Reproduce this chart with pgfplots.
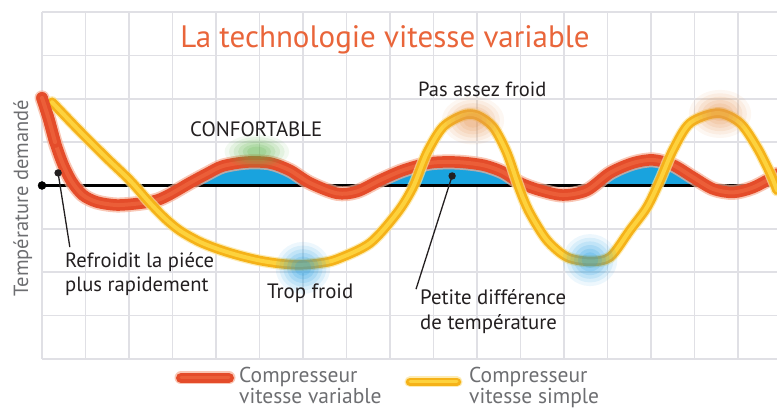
\documentclass[border=0pt]{standalone}
\usepackage{pgfplots}
\pgfplotsset{compat=1.18}
\usepackage{pgfplotstable}
\usepgfplotslibrary{fillbetween}
\usepackage{fontspec}
\setmainfont{PT Sans}

\definecolor{titlec}{RGB}{233,101,58}
\definecolor{txtc}{RGB}{35,31,32}
\definecolor{grayc}{RGB}{109,110,113}
\definecolor{gridc}{RGB}{224,224,229}
\definecolor{bluefill}{RGB}{25,163,222}
\definecolor{redmain}{RGB}{228,76,42}
\definecolor{redhi}{RGB}{242,112,70}
\definecolor{redglow}{RGB}{246,175,150}
\definecolor{yelmain}{RGB}{245,178,25}
\definecolor{yelhi}{RGB}{255,218,70}
\definecolor{yelglow}{RGB}{252,228,150}
\definecolor{blobgreen}{RGB}{95,180,75}
\definecolor{bloborange}{RGB}{230,150,85}
\definecolor{blobblue}{RGB}{30,155,225}

% variable-speed compressor (red)
\pgfplotstableread{
x y
0 6.02
0.15 5.55
0.30 5.00
0.49 4.47
0.69 4.08
0.94 3.78
1.26 3.62
1.72 3.55
2.25 3.59
2.64 3.66
2.95 3.80
3.40 4.06
3.79 4.27
4.16 4.45
4.71 4.54
5.24 4.52
5.70 4.35
6.16 4.06
6.78 3.82
7.24 3.86
7.77 4.12
8.30 4.35
8.92 4.52
9.54 4.54
10.14 4.47
10.60 4.31
10.99 4.06
11.45 3.89
11.98 3.78
12.53 3.89
13.06 4.29
13.59 4.52
14.05 4.59
14.51 4.47
14.97 4.19
15.43 3.92
15.89 3.84
16.34 3.95
16.80 4.19
16.90 4.26
}\redtab

\pgfplotstableread{
x y
0 6.02
0.15 5.55
0.30 5.00
}\redstart

% single-speed compressor (yellow)
\pgfplotstableread{
x y
0.23 5.92
0.87 5.25
1.49 4.63
2.02 4.12
2.48 3.60
2.83 3.24
3.17 2.96
3.63 2.70
4.09 2.52
4.55 2.38
5.01 2.27
5.47 2.20
5.93 2.17
6.39 2.21
6.78 2.30
7.54 2.67
8.16 3.36
8.53 3.96
8.85 4.75
9.22 5.35
9.68 5.62
10.00 5.62
10.37 5.35
10.69 4.75
10.99 3.89
11.22 3.36
11.61 2.74
12.07 2.35
12.60 2.25
13.06 2.35
13.52 2.97
13.91 3.50
14.21 4.12
14.51 4.82
14.90 5.44
15.54 5.67
16.05 5.44
16.44 4.88
16.74 4.29
16.90 3.89
}\yeltab

\newcommand{\blobring}[5]{% color, size, xscale, opacity, coords
  \addplot[#1, only marks, mark=*, mark size=#2, mark options={draw opacity=0, line width=0pt, fill=#1, fill opacity=#4, xscale=#3}] coordinates {#5};
}
\newcommand{\blob}[4]{% color, size, xscale, coords
  \blobring{#1}{#2}{#3}{0.08}{#4}
  \blobring{#1}{0.86*#2}{#3}{0.10}{#4}
  \blobring{#1}{0.72*#2}{#3}{0.12}{#4}
  \blobring{#1}{0.58*#2}{#3}{0.14}{#4}
  \blobring{#1}{0.44*#2}{#3}{0.16}{#4}
  \blobring{#1}{0.30*#2}{#3}{0.18}{#4}
}

\begin{document}
\begin{tikzpicture}
\begin{axis}[
  at={(42pt,50pt)}, anchor=south west,
  scale only axis, width=735pt, height=347pt,
  xmin=0, xmax=16.9, ymin=0, ymax=8,
  xtick={0,...,16}, ytick={0,...,8},
  xticklabels={}, yticklabels={},
  major tick length=0pt,
  grid=major, grid style={line width=1.7pt, color=gridc},
  axis line style={draw=none},
  clip=false,
]
% baseline path
\addplot[draw=none, name path=base] coordinates {(0,4) (16.9,4)};
% hidden red path for the fill
\addplot[draw=none, smooth, name path=redp] table {\redtab};
\addplot[fill=bluefill, draw=none] fill between[of=redp and base,
  soft clip={(axis cs:0,4) rectangle (axis cs:16.9,8)}];
% baseline
\addplot[black, line width=2.2pt] coordinates {(0,4) (16.9,4)};
\addplot[black, only marks, mark=*, mark size=4pt] coordinates {(0,4)};
% glows
\blob{blobgreen}{17}{1.9}{(4.94,4.78)}
\blob{bloborange}{24}{1.3}{(9.91,5.50) (15.59,5.65)}
\blob{blobblue}{26}{1.05}{(6.0,2.10) (12.6,2.28)}
% red curve
\addplot[redglow, line width=15pt, smooth, line cap=round, opacity=0.7] table {\redtab};
\addplot[redmain, line width=11.5pt, smooth, line cap=round] table {\redtab};
\addplot[redhi, line width=4pt, smooth, line cap=round, opacity=0.5] table {\redtab};
% yellow curve
\addplot[yelglow, line width=12pt, smooth, line cap=round, opacity=0.7] table {\yeltab};
\addplot[yelmain, line width=9.5pt, smooth, line cap=round] table {\yeltab};
\addplot[yelhi, line width=4pt, smooth, line cap=round, opacity=0.8] table {\yeltab};
% red start over yellow start
\addplot[redmain, line width=11.5pt, smooth, line cap=round] table {\redstart};
\addplot[redhi, line width=4pt, smooth, line cap=round, opacity=0.5] table {\redstart};
% leader lines
\addplot[txtc, line width=1.3pt, mark=*, mark indices={1}, mark size=3pt] coordinates {(0.37,4.29) (0.64,2.58)};
\addplot[txtc, line width=1.3pt, mark=*, mark indices={1}, mark size=3pt] coordinates {(9.43,4.22) (8.60,1.61)};
\end{axis}

% texts
\node[anchor=base, text=titlec, font=\fontsize{31}{33}\selectfont, inner sep=0pt] at (385pt,361pt) {La technologie vitesse variable};
\node[anchor=base west, text=txtc, font=\fontsize{20.8}{22}\selectfont, inner sep=0pt] at (190pt,272pt) {CONFORTABLE};
\node[anchor=base west, text=txtc, font=\fontsize{20.5}{22}\selectfont, inner sep=0pt] at (418pt,312pt) {Pas assez froid};
\node[anchor=base west, text=txtc, font=\fontsize{20.6}{22}\selectfont, inner sep=0pt] at (65pt,141pt) {Refroidit la piéce};
\node[anchor=base west, text=txtc, font=\fontsize{20.6}{22}\selectfont, inner sep=0pt] at (65pt,117pt) {plus rapidement};
\node[anchor=base west, text=txtc, font=\fontsize{20.8}{22}\selectfont, inner sep=0pt] at (267pt,110pt) {Trop froid};
\node[anchor=base west, text=txtc, font=\fontsize{20.8}{22}\selectfont, inner sep=0pt] at (420pt,104pt) {Petite différence};
\node[anchor=base west, text=txtc, font=\fontsize{20.8}{22}\selectfont, inner sep=0pt] at (420pt,79pt) {de température};
\node[rotate=90, anchor=base, text=grayc, font=\fontsize{20.5}{22}\selectfont, inner sep=0pt] at (28pt,211pt) {Température demandé};
% legend
\draw[redglow, line width=13pt, line cap=round, opacity=0.7] (181pt,31pt) -- (229pt,31pt);
\draw[redmain, line width=10pt, line cap=round] (181pt,31pt) -- (229pt,31pt);
\draw[redhi, line width=3pt, line cap=round, opacity=0.5] (181pt,31pt) -- (229pt,31pt);
\draw[yelglow, line width=11pt, line cap=round, opacity=0.7] (410pt,27pt) -- (457pt,27pt);
\draw[yelmain, line width=8.5pt, line cap=round] (410pt,27pt) -- (457pt,27pt);
\draw[yelhi, line width=3pt, line cap=round, opacity=0.8] (410pt,27pt) -- (457pt,27pt);
\node[anchor=base west, text=grayc, font=\fontsize{21.5}{23}\selectfont, inner sep=0pt] at (239pt,26pt) {Compresseur};
\node[anchor=base west, text=grayc, font=\fontsize{21.5}{23}\selectfont, inner sep=0pt] at (239pt,5pt) {vitesse variable};
\node[anchor=base west, text=grayc, font=\fontsize{21.5}{23}\selectfont, inner sep=0pt] at (469pt,26pt) {Compresseur};
\node[anchor=base west, text=grayc, font=\fontsize{21.5}{23}\selectfont, inner sep=0pt] at (469pt,5pt) {vitesse simple};
\pgfresetboundingbox
\useasboundingbox (0pt,0pt) rectangle (777pt,409pt);
\end{tikzpicture}
\end{document}
